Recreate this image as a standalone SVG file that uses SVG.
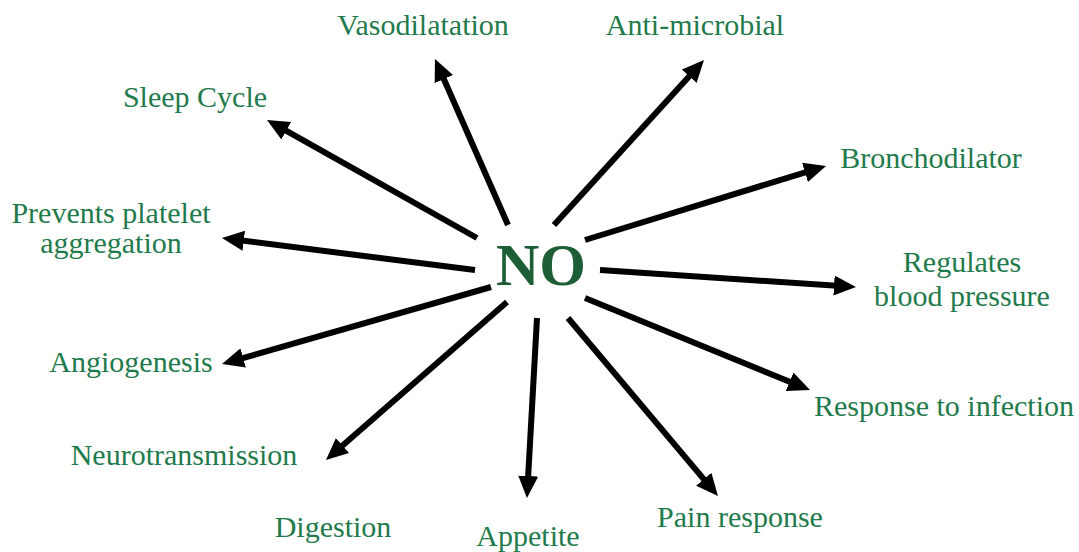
<svg xmlns="http://www.w3.org/2000/svg" width="1079" height="552" viewBox="0 0 1079 552">
<style>
.lbl{font-family:"Liberation Serif","Times New Roman",serif;font-size:30px;fill:#1f7a4c;text-anchor:middle}
.hub{font-family:"Liberation Serif","Times New Roman",serif;font-size:60px;font-weight:bold;fill:#1d5e36;text-anchor:middle}
.arr{stroke:#000;stroke-width:6;fill:none;marker-end:url(#ah)}
</style>
<defs>
<marker id="ah" viewBox="0 0 22 20" refX="14" refY="10" markerWidth="22" markerHeight="20" markerUnits="userSpaceOnUse" orient="auto">
<path d="M0,0 L22,10 L0,20 Z" fill="#000"/>
</marker>
</defs>
<rect width="1079" height="552" fill="#fff"/>
<g id="connectors">
<line class="arr" x1="508" y1="225" x2="438.2" y2="66.3"/>
<line class="arr" x1="554" y1="225" x2="698.6" y2="65.9"/>
<line class="arr" x1="477" y1="238" x2="274" y2="123.9"/>
<line class="arr" x1="585" y1="240" x2="818.4" y2="168.3"/>
<line class="arr" x1="475" y1="270" x2="229.9" y2="239"/>
<line class="arr" x1="600" y1="270" x2="848" y2="286.5"/>
<line class="arr" x1="491" y1="287" x2="229.7" y2="361.8"/>
<line class="arr" x1="585" y1="298" x2="802.6" y2="387"/>
<line class="arr" x1="507" y1="302" x2="332" y2="454.7"/>
<line class="arr" x1="537" y1="318" x2="527.4" y2="490"/>
<line class="arr" x1="568" y1="318" x2="712.8" y2="489.9"/>
</g>
<g id="node-no"><text class="hub" x="541" y="285">NO</text></g>
<g id="node-vasodilatation"><text class="lbl" x="423" y="35">Vasodilatation</text></g>
<g id="node-antimicrobial"><text class="lbl" x="695" y="35">Anti-microbial</text></g>
<g id="node-sleep"><text class="lbl" x="195" y="107">Sleep Cycle</text></g>
<g id="node-bronchodilator"><text class="lbl" x="931" y="168">Bronchodilator</text></g>
<g id="node-platelet"><text class="lbl" x="111" y="223">Prevents platelet</text><text class="lbl" x="111" y="253">aggregation</text></g>
<g id="node-bp"><text class="lbl" x="962" y="272">Regulates</text><text class="lbl" x="962" y="306">blood pressure</text></g>
<g id="node-angiogenesis"><text class="lbl" x="131" y="372">Angiogenesis</text></g>
<g id="node-infection"><text class="lbl" x="944" y="416">Response to infection</text></g>
<g id="node-neuro"><text class="lbl" x="184" y="465">Neurotransmission</text></g>
<g id="node-digestion"><text class="lbl" x="333" y="537">Digestion</text></g>
<g id="node-appetite"><text class="lbl" x="528" y="546">Appetite</text></g>
<g id="node-pain"><text class="lbl" x="740" y="527">Pain response</text></g>
</svg>
